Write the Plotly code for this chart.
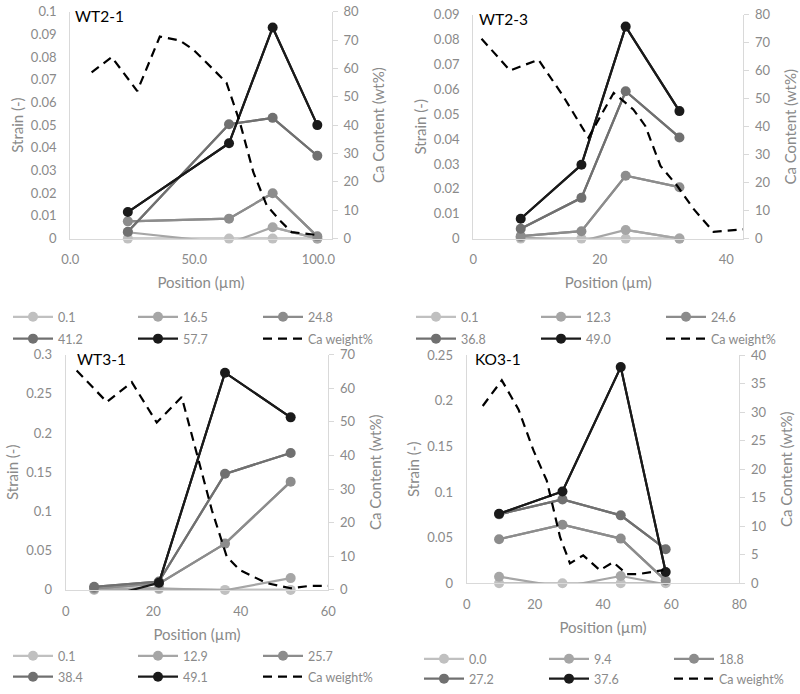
import plotly.graph_objects as go

# ---------------- data ----------------
panel_names = ["WT2-1", "WT2-3", "WT3-1", "KO3-1"]

x_wt21 = [23.2, 64.0, 81.6, 99.6]
labels_wt21 = ["0.1", "16.5", "24.8", "41.2", "57.7"]
strain_wt21 = [
    [0.0, 0.0, 0.0, 0.0],
    [0.0028, -0.002, 0.005, 0.0],
    [0.0076, 0.0088, 0.0200, 0.0010],
    [0.0030, 0.0504, 0.0532, 0.0365],
    [0.0117, 0.0420, 0.0930, 0.0500],
]
ca_x_wt21 = [8.6, 16.7, 27.0, 36.1, 44.2, 49.6, 57.7, 63.0, 68.4, 73.8, 79.2, 84.5, 89.2, 95.3, 100.0]
ca_y_wt21 = [58.6, 64.0, 52.0, 71.2, 69.8, 66.6, 59.6, 54.9, 40.9, 23.4, 11.7, 6.4, 2.3, 1.75, 1.2]

x_wt23 = [7.5, 17.1, 24.1, 32.6]
labels_wt23 = ["0.1", "12.3", "24.6", "36.8", "49.0"]
strain_wt23 = [
    [0.0, 0.0, 0.0, 0.0],
    [0.0005, -0.001, 0.0035, 0.0],
    [0.0010, 0.0030, 0.0253, 0.0207],
    [0.0040, 0.0164, 0.0593, 0.0407],
    [0.0080, 0.0297, 0.0853, 0.0513],
]
ca_x_wt23 = [1.3, 5.8, 10.3, 14.2, 18.2, 22.2, 25.3, 27.2, 29.6, 32.2, 34.8, 38.0, 42.7]
ca_y_wt23 = [71.5, 60.1, 64.0, 51.0, 36.1, 52.1, 46.2, 40.3, 26.0, 19.0, 10.7, 2.4, 3.3]

x_wt31 = [6.5, 21.3, 36.4, 51.4]
labels_wt31 = ["0.1", "12.9", "25.7", "38.4", "49.1"]
strain_wt31 = [
    [0.0, 0.001, 0.0, 0.0],
    [0.001, 0.002, -0.0005, 0.015],
    [0.002, 0.008, 0.059, 0.138],
    [0.004, 0.0106, 0.148, 0.1745],
    [-0.013, 0.009, 0.277, 0.220],
]
ca_x_wt31 = [2.5, 9.4, 15.1, 20.8, 26.5, 29.9, 33.4, 36.8, 39.8, 45.9, 51.4, 55.8, 60.0]
ca_y_wt31 = [65.3, 55.9, 61.8, 49.8, 57.4, 40.4, 23.7, 9.9, 5.9, 2.0, 0.5, 1.2, 1.2]

x_ko31 = [9.5, 28.1, 45.2, 58.4]
labels_ko31 = ["0.0", "9.4", "18.8", "27.2", "37.6"]
strain_ko31 = [
    [0.0, 0.0, 0.0, 0.0],
    [0.0073, -0.004, 0.008, -0.001],
    [0.0483, 0.0643, 0.0490, 0.003],
    [0.0756, 0.0920, 0.0745, 0.0374],
    [0.0763, 0.1007, 0.2370, 0.0124],
]
ca_x_ko31 = [4.7, 10.3, 15.2, 19.6, 23.5, 27.4, 30.3, 34.2, 39.1, 43.0, 47.0, 50.1, 57.7]
ca_y_ko31 = [31.1, 35.6, 30.5, 23.3, 18.0, 8.1, 3.5, 4.9, 2.3, 3.7, 1.6, 1.6, 2.3]

ca_label = "Ca weight%"

# axis ticks
xticks = [[0, 50, 100], [0, 20, 40], [0, 20, 40, 60], [0, 20, 40, 60, 80]]
xticktext = [["0.0", "50.0", "100.0"], ["0", "20", "40"], ["0", "20", "40", "60"], ["0", "20", "40", "60", "80"]]
xranges = [[0, 105.4], [0, 42.7], [0, 60], [0, 80]]
yl_ticks = [
    [0, 0.01, 0.02, 0.03, 0.04, 0.05, 0.06, 0.07, 0.08, 0.09, 0.1],
    [0, 0.01, 0.02, 0.03, 0.04, 0.05, 0.06, 0.07, 0.08, 0.09],
    [0, 0.05, 0.1, 0.15, 0.2, 0.25, 0.3],
    [0, 0.05, 0.1, 0.15, 0.2, 0.25],
]
yl_text = [
    ["0", "0.01", "0.02", "0.03", "0.04", "0.05", "0.06", "0.07", "0.08", "0.09", "0.1"],
    ["0", "0.01", "0.02", "0.03", "0.04", "0.05", "0.06", "0.07", "0.08", "0.09"],
    ["0", "0.05", "0.1", "0.15", "0.2", "0.25", "0.3"],
    ["0", "0.05", "0.1", "0.15", "0.2", "0.25"],
]
yr_max = [80, 80, 70, 40]
yr_dtick = [10, 10, 10, 5]

# ---------------- style ----------------
colors = ["#c0c0c0", "#a6a6a6", "#8c8c8c", "#707070", "#1a1a1a"]
W, H = 800, 694
FONT = "Lato, Open Sans, sans-serif"
TICKC = "#8a8a8a"
AXC = "#d9d9d9"

# plot area pixel boxes: (left, right, top, bottom)
boxes = [(70.3, 331.7, 11.7, 240.0), (473.3, 743.3, 15.0, 240.0),
         (65.7, 328.3, 356.7, 593.3), (466.7, 739.3, 357.3, 586.7)]
label_dx = [3, 4, 9, 6]

panels = [
    (x_wt21, labels_wt21, strain_wt21, ca_x_wt21, ca_y_wt21),
    (x_wt23, labels_wt23, strain_wt23, ca_x_wt23, ca_y_wt23),
    (x_wt31, labels_wt31, strain_wt31, ca_x_wt31, ca_y_wt31),
    (x_ko31, labels_ko31, strain_ko31, ca_x_ko31, ca_y_ko31),
]

# legend rows (left px, y px center) for two rows per panel
legend_pos = [
    [(8, 319), (8, 341)],
    [(411, 319), (411, 341)],
    [(8, 660), (8, 681)],
    [(419, 663), (419, 683)],
]

fig = go.Figure()
layout = {}

for p, (xs, labs, strains, cx, cy) in enumerate(panels):
    xa = "x" if p == 0 else f"x{p+1}"
    yl = f"y{2*p+1}" if p > 0 else "y"
    yr = f"y{2*p+2}"
    lg_a = "legend" if p == 0 else f"legend{2*p+1}"
    lg_b = f"legend{2*p+2}"
    for i, (lab, vals) in enumerate(zip(labs, strains)):
        lg = lg_a if i < 3 else lg_b
        # full line (clipped to plot area)
        fig.add_trace(go.Scatter(x=xs, y=vals, mode="lines", xaxis=xa, yaxis=yl,
                                 line=dict(color=colors[i], width=2.2),
                                 showlegend=False, legendgroup=f"p{p}s{i}", hoverinfo="skip"))
        # markers only at visible (non-negative) values
        vis = [v if v >= 0 else None for v in vals]
        fig.add_trace(go.Scatter(x=xs, y=vis, mode="lines+markers", xaxis=xa, yaxis=yl,
                                 name=lab, legend=lg, legendgroup=f"p{p}s{i}",
                                 line=dict(color=colors[i], width=2.2),
                                 marker=dict(color=colors[i], size=10),
                                 cliponaxis=False, connectgaps=False))
    fig.add_trace(go.Scatter(x=cx, y=cy, mode="lines", xaxis=xa, yaxis=yr,
                             name=ca_label, legend=lg_b,
                             line=dict(color="black", width=2.2, dash="9px,6px")))

    l, r, t, b = boxes[p]
    xdom = [l / W, r / W]
    ydom = [1 - b / H, 1 - t / H]
    xkey = "xaxis" if p == 0 else f"xaxis{p+1}"
    ylkey = "yaxis" if p == 0 else f"yaxis{2*p+1}"
    yrkey = f"yaxis{2*p+2}"
    layout[xkey] = dict(domain=xdom, range=xranges[p], anchor=yl, tickvals=xticks[p],
                        ticktext=xticktext[p], showline=True, linecolor=AXC, linewidth=1.3,
                        showgrid=False, zeroline=False, ticks="", automargin=False,
                        ticklabelstandoff=9,
                        tickfont=dict(size=13, color=TICKC, family=FONT),
                        title=dict(text="Position (µm)", font=dict(size=15, color=TICKC, family=FONT),
                                   standoff=11))
    layout[ylkey] = dict(domain=ydom, range=[0, yl_ticks[p][-1]], anchor=xa,
                         tickvals=yl_ticks[p], ticktext=yl_text[p], showline=True,
                         linecolor=AXC, linewidth=1.3, showgrid=False, zeroline=False, ticks="",
                         automargin=False, ticklabelstandoff=10,
                         tickfont=dict(size=13, color=TICKC, family=FONT),
                         title=dict(text="Strain (-)", font=dict(size=15, color=TICKC, family=FONT),
                                    standoff=3))
    layout[yrkey] = dict(domain=ydom, range=[0, yr_max[p]], anchor=xa, overlaying=yl,
                         side="right", dtick=yr_dtick[p], showline=True, linecolor=AXC,
                         linewidth=1.3, showgrid=False, zeroline=False, ticks="outside",
                         ticklen=5, tickcolor=AXC, automargin=False, ticklabelstandoff=3,
                         tickfont=dict(size=13, color=TICKC, family=FONT),
                         title=dict(text="Ca Content (wt%)", font=dict(size=15, color=TICKC, family=FONT),
                                    standoff=15))
    for k, lgname in enumerate([lg_a, lg_b]):
        lx, ly = legend_pos[p][k]
        layout[lgname] = dict(x=lx / W, y=1 - ly / H, xanchor="left", yanchor="middle",
                              orientation="h", entrywidth=70, entrywidthmode="pixels",
                              itemwidth=40, bgcolor="rgba(0,0,0,0)",
                              font=dict(size=12.5, color=TICKC, family=FONT),
                              tracegroupgap=0, itemclick=False)
    fig.add_annotation(x=(l + label_dx[p]) / W, y=1 - (t - 7) / H, xref="paper", yref="paper",
                       text=panel_names[p], showarrow=False, xanchor="left", yanchor="top",
                       font=dict(size=15.5, color="black", family=FONT))

fig.update_layout(width=W, height=H, margin=dict(l=0, r=0, t=0, b=0),
                  plot_bgcolor="white", paper_bgcolor="white",
                  font=dict(family=FONT, color=TICKC), **layout)

fig.write_html("out.html", config={"displayModeBar": False},
               post_script="document.body.style.margin='0px';")
